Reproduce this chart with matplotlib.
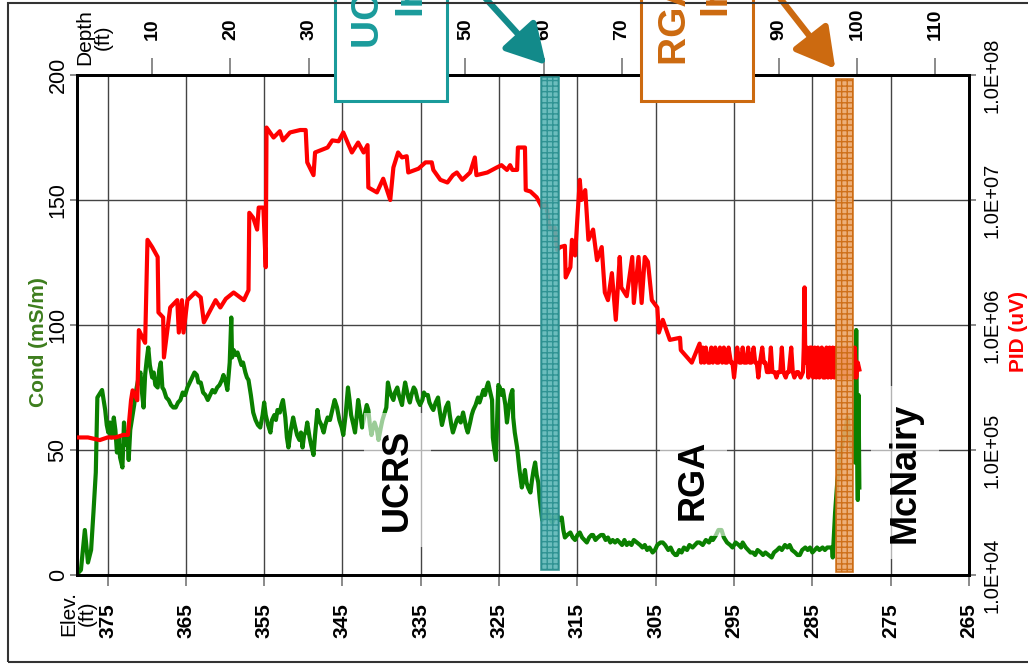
import numpy as np
import matplotlib
matplotlib.use("Agg")
import matplotlib.pyplot as plt
from matplotlib.patches import Rectangle, FancyArrowPatch

plt.rcParams['font.family'] = ['Liberation Sans', 'DejaVu Sans']

# conductivity log: (elevation ft, cond mS/m)
cond_pts = [
    (378.7, 1), (378.4, 2), (377.9, 18), (377.5, 5), (377.1, 10), (376.8, 25), (376.5, 41),
    (376.3, 71), (375.9, 73), (375.7, 74), (375.5, 70), (375.3, 66), (375.1, 60), (374.9, 57),
    (374.7, 61), (374.5, 55), (374.2, 63), (374.0, 58), (373.8, 49), (373.6, 55), (373.4, 47),
    (373.1, 43), (372.9, 61), (372.7, 52), (372.5, 57), (372.3, 46), (372.1, 58), (371.9, 62),
    (371.6, 68), (371.4, 73), (371.1, 78), (370.8, 81), (370.6, 73), (370.4, 67), (370.2, 80),
    (370.0, 86), (369.8, 91), (369.6, 84), (369.3, 79), (369.1, 81), (368.9, 76), (368.6, 75),
    (368.4, 82), (368.2, 85), (368.0, 75), (367.8, 74), (367.5, 71), (367.2, 70), (366.9, 68),
    (366.6, 67), (366.3, 67), (366.0, 69), (365.7, 70), (365.4, 73), (365.1, 72), (364.8, 75),
    (364.5, 77), (364.2, 79), (363.9, 81), (363.6, 80), (363.4, 77), (363.1, 77), (362.8, 73),
    (362.5, 72), (362.2, 70), (361.9, 72), (361.6, 74), (361.3, 73), (361.0, 75), (360.7, 76),
    (360.4, 78), (360.2, 80), (359.9, 77), (359.7, 74), (359.4, 85), (359.2, 103), (359.1, 87),
    (358.9, 90), (358.6, 88), (358.4, 89), (358.1, 86), (357.9, 84), (357.7, 85), (357.4, 81),
    (357.2, 79), (357.0, 78), (356.7, 72), (356.4, 65), (356.1, 62), (355.8, 60), (355.5, 59),
    (355.2, 64), (355.0, 69), (354.8, 64), (354.5, 60), (354.2, 57), (354.0, 62), (353.7, 64),
    (353.5, 62), (353.3, 66), (353.0, 65), (352.8, 68), (352.6, 70), (352.3, 63), (352.1, 55),
    (351.9, 51), (351.6, 58), (351.3, 63), (351.1, 60), (350.8, 56), (350.5, 54), (350.3, 57),
    (350.1, 51), (349.9, 56), (349.7, 57), (349.5, 61), (349.2, 55), (349.0, 52), (348.7, 48),
    (348.5, 56), (348.2, 66), (348.0, 62), (347.7, 60), (347.4, 57), (347.2, 60), (346.9, 63),
    (346.6, 62), (346.3, 66), (346.0, 70), (345.7, 67), (345.4, 62), (345.1, 59), (344.9, 56),
    (344.6, 64), (344.3, 75), (344.1, 70), (343.9, 64), (343.6, 60), (343.4, 57), (343.2, 63),
    (343.0, 70), (342.8, 66), (342.5, 59), (342.3, 62), (342.1, 65), (341.9, 68), (341.7, 66),
    (341.5, 60), (341.3, 56), (341.1, 59), (340.9, 61), (340.6, 58), (340.4, 54), (340.1, 59),
    (339.9, 62), (339.6, 65), (339.4, 67), (339.2, 77), (339.0, 74), (338.8, 72), (338.5, 70),
    (338.3, 73), (338.0, 75), (337.8, 72), (337.6, 70), (337.4, 68), (337.2, 73), (337.0, 77),
    (336.8, 74), (336.6, 71), (336.4, 69), (336.2, 72), (335.9, 75), (335.7, 74), (335.4, 70),
    (335.1, 68), (334.8, 70), (334.6, 73), (334.4, 72), (334.1, 72), (333.9, 69), (333.6, 67),
    (333.4, 66), (333.1, 69), (332.8, 71), (332.6, 66), (332.3, 60), (332.0, 64), (331.8, 67),
    (331.5, 69), (331.3, 64), (331.1, 60), (330.9, 57), (330.6, 60), (330.4, 62), (330.2, 63),
    (329.9, 61), (329.6, 65), (329.4, 62), (329.2, 59), (329.0, 57), (328.7, 61), (328.5, 64),
    (328.3, 66), (328.0, 68), (327.7, 71), (327.5, 69), (327.2, 72), (327.0, 74), (326.8, 72),
    (326.6, 75), (326.4, 77), (326.2, 74), (325.9, 70), (325.8, 55), (325.6, 50), (325.4, 46),
    (325.2, 68), (325.1, 76), (324.9, 75), (324.7, 72), (324.5, 74), (324.2, 68), (324.0, 61),
    (323.8, 66), (323.5, 72), (323.3, 74), (323.2, 63), (323.0, 57), (322.7, 51), (322.4, 42),
    (322.1, 35), (321.9, 38), (321.7, 42), (321.5, 37), (321.3, 35), (321.0, 33), (320.8, 38),
    (320.6, 42), (320.4, 45), (320.2, 40), (320.0, 37), (319.8, 30), (319.5, 22), (319.3, 24),
    (319.1, 23), (318.9, 26), (318.6, 24), (318.4, 22), (318.2, 21), (317.9, 23), (317.6, 24),
    (317.3, 22), (317.0, 23), (316.8, 18), (316.6, 15), (316.3, 16), (315.9, 17), (315.6, 15),
    (315.3, 14), (315.0, 16), (314.7, 17), (314.4, 15), (314.1, 14), (313.8, 13), (313.5, 15),
    (313.2, 16), (313.0, 16), (312.7, 14), (312.4, 15), (312.0, 16), (311.7, 16), (311.4, 14),
    (311.1, 15), (310.8, 13), (310.5, 14), (310.2, 13), (309.9, 14), (309.6, 13), (309.3, 12),
    (309.0, 14), (308.7, 12), (308.4, 13), (308.1, 12), (307.8, 14), (307.4, 13), (307.0, 12),
    (306.7, 11), (306.4, 12), (306.1, 10), (305.8, 11), (305.4, 9), (305.1, 10), (304.8, 12),
    (304.4, 13), (304.1, 13), (303.8, 12), (303.4, 10), (303.1, 11), (302.8, 9), (302.5, 8),
    (302.3, 8), (302.0, 10), (301.7, 9), (301.4, 11), (301.0, 10), (300.7, 12), (300.3, 11),
    (300.0, 12), (299.7, 13), (299.4, 13), (299.0, 12), (298.6, 14), (298.2, 13), (297.9, 15),
    (297.7, 14), (297.3, 16), (297.0, 18), (296.6, 18), (296.3, 15), (295.9, 13), (295.5, 12),
    (295.2, 11), (294.8, 13), (294.4, 12), (294.1, 11), (293.9, 13), (293.5, 11), (293.2, 10),
    (292.9, 9), (292.6, 9), (292.3, 8), (292.0, 10), (291.6, 9), (291.3, 8), (291.0, 9),
    (290.6, 8), (290.2, 7), (289.9, 9), (289.5, 10), (289.2, 11), (288.9, 10), (288.5, 12),
    (288.2, 11), (287.9, 12), (287.6, 10), (287.2, 9), (286.9, 8), (286.6, 8), (286.3, 10),
    (285.9, 11), (285.6, 10), (285.3, 11), (285.0, 9), (284.7, 10), (284.4, 11), (284.1, 10),
    (283.7, 11), (283.4, 10), (283.1, 11), (282.8, 11), (282.5, 11), (282.4, 7), (282.1, 25),
    (281.8, 38), (281.6, 43), (281.3, 50), (281.0, 55), (280.7, 60), (280.5, 63), (280.2, 55),
    (280.0, 50), (279.8, 48), (279.6, 45), (279.5, 70), (279.4, 98), (279.35, 80), (279.3, 55),
    (279.25, 40), (279.2, 30), (279.15, 50), (279.1, 72), (279.05, 55), (279.0, 35),
]

# PID log: (elevation ft, PID uV)
pid_pts = [
    (378.9, 1.26e5), (377.5, 1.26e5), (376.0, 1.2e5), (375.0, 1.26e5), (374.0, 1.26e5),
    (373.0, 1.32e5), (372.4, 1.32e5), (372.0, 2.5e5), (371.8, 3.0e5), (371.2, 2.5e5),
    (371.0, 9.1e5), (370.2, 7.2e5), (369.9, 4.8e6), (369.3, 4.2e6), (368.6, 3.5e6),
    (368.5, 1.26e6), (367.9, 1.15e6), (367.8, 5.5e5), (367.0, 1.38e6), (366.1, 1.58e6),
    (365.9, 8.7e5), (365.5, 1.58e6), (365.3, 8.7e5), (364.8, 1.58e6), (363.8, 1.82e6),
    (363.1, 1.66e6), (362.7, 1.05e6), (361.2, 1.58e6), (360.6, 1.38e6), (359.9, 1.62e6),
    (358.9, 1.82e6), (357.6, 1.58e6), (357.0, 1.9e6), (356.9, 7.9e6), (356.4, 7.2e6),
    (355.9, 5.8e6), (355.7, 8.7e6), (355.1, 8.7e6), (354.8, 2.9e6), (354.7, 3.8e7),
    (353.8, 3.16e7), (353.0, 3.55e7), (352.6, 3.0e7), (351.7, 3.47e7), (350.4, 3.63e7),
    (349.7, 3.63e7), (349.5, 2.0e7), (348.7, 1.58e7), (348.5, 2.4e7), (346.9, 2.63e7),
    (346.3, 3.0e7), (345.5, 2.95e7), (344.9, 3.47e7), (343.8, 2.4e7), (343.0, 2.88e7),
    (342.3, 2.4e7), (341.8, 2.75e7), (341.7, 1.26e7), (340.6, 1.15e7), (339.8, 1.48e7),
    (338.9, 1.0e7), (338.5, 1.82e7), (337.9, 2.4e7), (337.4, 2.19e7), (336.8, 2.24e7),
    (336.6, 1.66e7), (335.3, 1.78e7), (334.4, 2.0e7), (333.6, 2.0e7), (333.4, 1.74e7),
    (332.5, 1.45e7), (331.6, 1.38e7), (330.9, 1.58e7), (330.4, 1.66e7), (329.7, 1.45e7),
    (328.7, 1.66e7), (328.1, 2.19e7), (327.9, 1.58e7), (326.5, 1.66e7), (325.3, 1.82e7),
    (324.7, 1.9e7), (324.0, 1.74e7), (323.6, 1.9e7), (323.3, 1.74e7), (322.7, 1.74e7),
    (322.6, 2.63e7), (321.7, 2.63e7), (321.6, 1.2e7), (321.0, 1.17e7), (320.2, 1.05e7),
    (319.5, 8.7e6), (319.0, 9.5e6), (318.6, 6.0e6), (317.9, 6.0e6), (317.6, 4.0e6),
    (317.2, 4.2e6), (316.6, 4.3e6), (316.5, 2.4e6), (315.9, 2.9e6), (315.7, 4.8e6),
    (315.3, 3.6e6), (314.7, 1.45e7), (314.5, 1.0e7), (314.0, 1.2e7), (313.6, 4.8e6),
    (313.0, 5.8e6), (312.5, 3.3e6), (311.9, 4.2e6), (311.5, 1.82e6), (311.1, 1.58e6),
    (310.6, 2.6e6), (310.1, 1.1e6), (309.6, 3.5e6), (309.4, 2.0e6), (308.7, 1.7e6),
    (308.0, 3.5e6), (307.8, 1.5e6), (307.2, 3.5e6), (306.8, 1.5e6), (306.4, 3.5e6),
    (306.0, 3.2e6), (305.5, 1.58e6), (304.8, 1.38e6), (304.6, 8.7e5), (304.1, 1.1e6),
    (303.2, 7.6e5), (301.9, 7.9e5), (301.8, 6.3e5), (300.4, 5.0e5), (299.4, 7.1e5),
    (299.2, 5.0e5), (299.0, 6.6e5), (298.8, 5.0e5), (298.6, 6.6e5), (298.3, 5.0e5),
    (298.1, 5.0e5), (297.9, 6.6e5), (297.7, 5.0e5), (297.4, 6.6e5), (297.2, 5.0e5),
    (297.0, 5.0e5), (296.8, 6.6e5), (296.5, 5.0e5), (296.3, 6.6e5), (296.1, 5.0e5),
    (295.9, 5.0e5), (295.7, 6.6e5), (295.4, 5.0e5), (295.2, 5.0e5), (295.0, 3.8e5),
    (294.8, 5.0e5), (294.6, 6.6e5), (294.3, 5.0e5), (294.1, 5.0e5), (293.9, 6.6e5),
    (293.7, 5.0e5), (293.4, 5.0e5), (293.2, 6.6e5), (293.0, 5.0e5), (292.8, 5.0e5),
    (292.5, 6.6e5), (292.3, 5.0e5), (292.1, 5.0e5), (291.9, 3.8e5), (291.7, 5.0e5),
    (291.4, 6.6e5), (291.2, 5.0e5), (291.0, 5.0e5), (290.8, 4.2e5), (290.5, 4.2e5),
    (290.3, 6.6e5), (290.1, 4.2e5), (289.8, 4.2e5), (289.6, 3.8e5), (289.4, 4.2e5),
    (289.1, 4.2e5), (288.9, 6.6e5), (288.7, 4.2e5), (288.4, 3.8e5), (288.2, 4.2e5),
    (288.0, 4.2e5), (287.7, 6.6e5), (287.5, 4.2e5), (287.3, 3.8e5), (287.0, 4.2e5),
    (286.8, 4.2e5), (286.5, 3.8e5), (286.2, 4.2e5), (286.1, 6.6e5), (286.0, 2.0e6),
    (285.9, 5.0e5), (285.7, 6.6e5), (285.5, 3.8e5), (285.3, 6.6e5), (285.1, 6.6e5),
    (284.9, 3.8e5), (284.7, 6.6e5), (284.5, 3.8e5), (284.3, 6.6e5), (284.1, 3.8e5),
    (283.8, 6.6e5), (283.6, 3.8e5), (283.4, 3.8e5), (283.2, 6.6e5), (283.0, 3.8e5),
    (282.8, 6.6e5), (282.6, 3.8e5), (282.4, 6.6e5), (282.2, 3.8e5), (282.0, 6.6e5),
    (281.8, 3.8e5), (281.6, 6.6e5), (281.4, 3.8e5), (281.2, 6.6e5), (281.0, 3.8e5),
    (280.8, 6.6e5), (280.6, 3.8e5), (280.4, 6.6e5), (280.2, 3.8e5), (280.0, 6.6e5),
    (279.8, 3.8e5), (279.6, 6.6e5), (279.4, 3.8e5), (279.2, 5.0e5), (279.0, 4.4e5),
]

elev_ticks = [375, 365, 355, 345, 335, 325, 315, 305, 295, 285, 275, 265]
depth_ticks = [10, 20, 30, 40, 50, 60, 70, 80, 90, 100, 110]
cond_ticks = [0, 50, 100, 150, 200]
pid_ticks = [1e4, 1e5, 1e6, 1e7, 1e8]
pid_ticklabels = ['1.0E+04', '1.0E+05', '1.0E+06', '1.0E+07', '1.0E+08']
ground_elev = 379.3
ucrs_interval = (319.66, 317.36)
rga_interval = (281.98, 279.78)
zones = [('UCRS', 338.0), ('RGA', 300.2), ('McNairy', 273.2)]

TEAL = '#1a9b9b'
ORANGE = '#cc6a10'

cond_elev, cond_vals = zip(*cond_pts)
pid_elev, pid_vals = zip(*pid_pts)

fig = plt.figure(figsize=(10.28, 6.67), dpi=100)
ax = fig.add_axes([77/1028, 92/667, 892/1028, 500/667])
ax2 = ax.twinx()

ax.plot(cond_elev, cond_vals, color='#0a8000', lw=3.0, zorder=3)
ax.set_xlim(378.9, 265)
ax.set_ylim(0, 200)
ax.set_xticks(elev_ticks)
ax.set_xticklabels([str(t) for t in elev_ticks], fontsize=15, fontweight='bold',
                   rotation=90, va='top', ha='center')
ax.set_yticks(cond_ticks)
ax.set_yticklabels([str(t) for t in cond_ticks], fontsize=15.5, rotation=90, va='center')
ax.grid(True, color='#444444', lw=1.0, zorder=1)
ax.tick_params(axis='x', length=8, width=1.2, color='#777777', pad=12)
ax.tick_params(axis='y', length=5, width=1.2, color='#777777', pad=1)
fig.text(38/1028, 1 - 342/667, 'Cond (mS/m)', rotation=90, ha='center', va='center',
         color='#3d7d1d', fontsize=15, fontweight='bold')

ax2.plot(pid_elev, pid_vals, color='#ff0000', lw=3.0, zorder=3)
ax2.set_yscale('log')
ax2.set_ylim(1e4, 1e8)
ax2.set_yticks(pid_ticks)
ax2.set_yticklabels(pid_ticklabels, fontsize=14.5, rotation=90, va='center')
ax2.minorticks_off()
ax2.tick_params(axis='y', length=5, width=1.2, color='#777777', pad=5)
fig.text(1018/1028, 1 - 332/667, 'PID (uV)', rotation=90, ha='center', va='center',
         color='#ff0000', fontsize=15, fontweight='bold')

for a in (ax, ax2):
    for s in a.spines.values():
        s.set_linewidth(2)
        s.set_color('black')

sec = ax.secondary_xaxis('top', functions=(lambda e: ground_elev - e,
                                           lambda d: ground_elev - d))
sec.set_xticks(depth_ticks)
sec.set_xticklabels([str(t) for t in depth_ticks], fontsize=14, fontweight='bold',
                    rotation=90, va='bottom', ha='center')
sec.tick_params(axis='x', length=12, width=1.2, color='#777777', pad=13)
sec.spines['top'].set_linewidth(2)

# sample intervals
ax2.axvspan(ucrs_interval[0], ucrs_interval[1], ymin=0.01, ymax=0.996,
            facecolor='#5cb6b6', edgecolor='#2a8f8f', hatch='+++', lw=1.2,
            alpha=0.9, zorder=5)
ax2.axvspan(rga_interval[0], rga_interval[1], ymin=0.006, ymax=0.992,
            facecolor='#eba76a', edgecolor=ORANGE, hatch='+++', lw=1.2,
            alpha=0.9, zorder=5)

# formation labels
for name, x in zones:
    ax2.text(x, 0.19 if name != 'McNairy' else 0.205, name, transform=ax2.get_xaxis_transform(),
             rotation=90, ha='center', va='center', fontsize=26, fontweight='bold',
             zorder=6, bbox=dict(boxstyle='square,pad=0.45', facecolor='white',
                                 edgecolor='none', alpha=0.6))

# callout boxes above the plot
fig.add_artist(Rectangle((335/1028, 1 - 101/667), 112/1028, 0.3, transform=fig.transFigure,
                         facecolor='white', edgecolor=TEAL, lw=2.2, clip_on=False))
fig.add_artist(Rectangle((641/1028, 1 - 101/667), 112/1028, 0.3, transform=fig.transFigure,
                         facecolor='white', edgecolor=ORANGE, lw=2.2, clip_on=False))
fig.text(369/1028, 1 - 48/667, 'UCRS Sample', rotation=90, ha='center', va='bottom',
         color=TEAL, fontsize=28, fontweight='bold')
fig.text(410/1028, 1 - 15/667, 'Interval', rotation=90, ha='center', va='bottom',
         color=TEAL, fontsize=28, fontweight='bold')
fig.text(676/1028, 1 - 65/667, 'RGA Sample', rotation=90, ha='center', va='bottom',
         color=ORANGE, fontsize=28, fontweight='bold')
fig.text(715/1028, 1 - 15/667, 'Interval', rotation=90, ha='center', va='bottom',
         color=ORANGE, fontsize=28, fontweight='bold')

fig.add_artist(FancyArrowPatch((478/1028, 1 + 10/667), (548/1028, 1 - 67/667),
                               transform=fig.transFigure, color='#128a8a', lw=4.5,
                               arrowstyle='-|>,head_length=0.8,head_width=0.45',
                               mutation_scale=30, clip_on=False))
fig.add_artist(FancyArrowPatch((772/1028, 1 + 12/667), (837/1028, 1 - 71/667),
                               transform=fig.transFigure, color=ORANGE, lw=4.5,
                               arrowstyle='-|>,head_length=0.8,head_width=0.45',
                               mutation_scale=30, clip_on=False))

# axis captions
fig.text(94/1028, 1 - 37/667, 'Depth\n(ft)', rotation=90, ha='center', va='center',
         fontsize=15, linespacing=1.0)
fig.text(78/1028, 1 - 613/667, 'Elev.\n(ft)', rotation=90, ha='center', va='center',
         fontsize=15, linespacing=1.0)

# outer frame
fig.add_artist(Rectangle((8/1028, 5/667), 1.2, 1 - 8/667, transform=fig.transFigure,
                         fill=False, edgecolor='#333333', lw=1.5, clip_on=False))

fig.savefig('out.png', dpi=100)
